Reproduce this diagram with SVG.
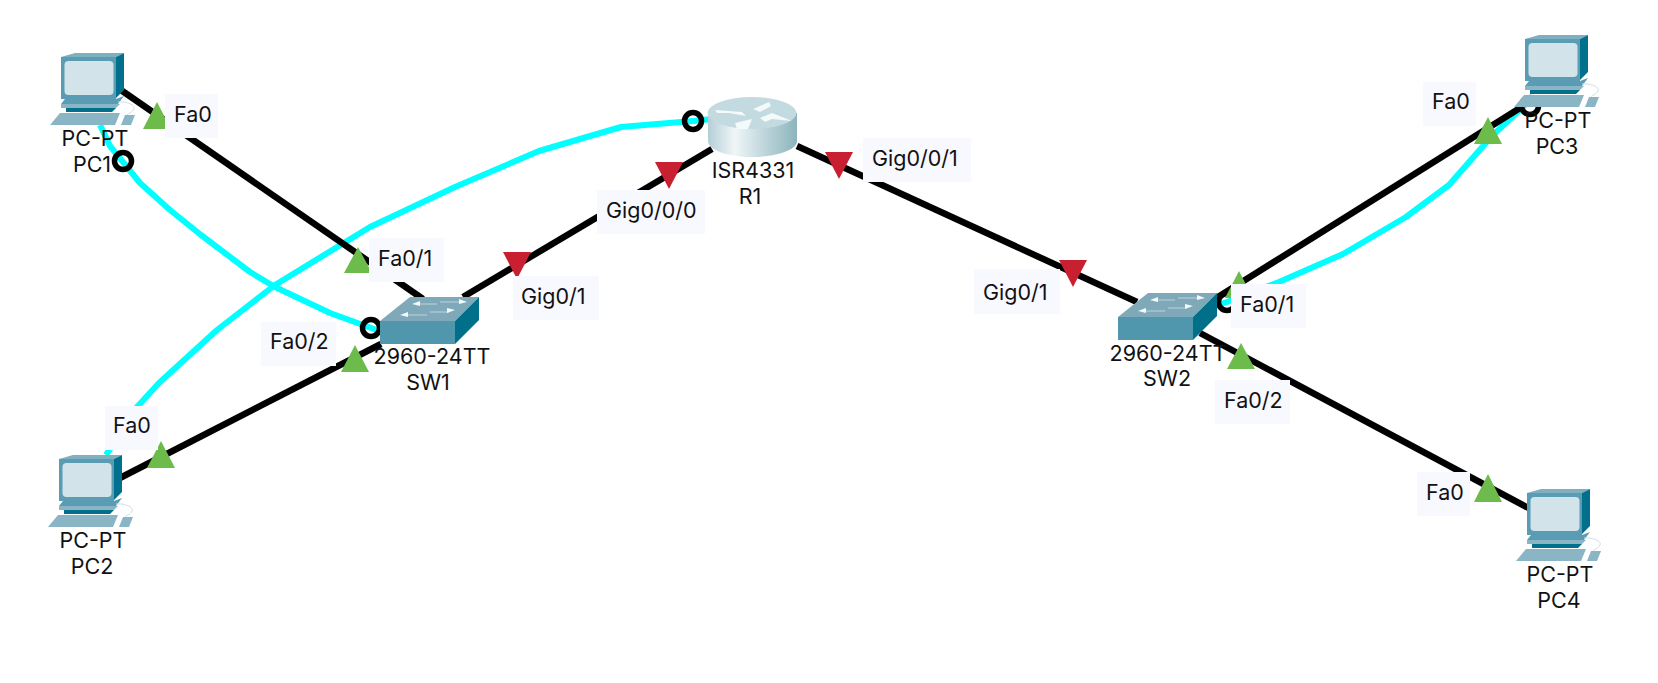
<svg xmlns="http://www.w3.org/2000/svg" xmlns:xlink="http://www.w3.org/1999/xlink" width="1658" height="683" viewBox="0 0 1658 683">
<style>
text{font-family:Inter,"Liberation Sans",sans-serif;fill:#111;}
.nl{font-size:21.500px;text-anchor:middle;}
.pl{font-size:21.500px;}
.lb{fill:#f8f8ff;}
.cu{fill:none;stroke:#000;stroke-width:6.500;}
.cy{fill:none;stroke:#00ffff;stroke-width:6;stroke-linejoin:round;}
.ci{fill:none;stroke:#000;stroke-width:5.500;}
.up{fill:#6cbb4b;}
.dn{fill:#c92031;}
</style>
<defs>
<linearGradient id="rg" x1="0" x2="1" y1="0" y2="0">
<stop offset="0" stop-color="#b4ced5"/><stop offset="0.3" stop-color="#f0f6f7"/><stop offset="0.6" stop-color="#c3d9de"/><stop offset="1" stop-color="#8cb4bc"/>
</linearGradient>
<g id="pc">
<path d="M11 4L25 0H74L66 4Z" fill="#7fb0c0"/>
<path d="M11 4H66V46H11Z" fill="#5a9cb3"/>
<path d="M66 4L74 0V37L66 45Z" fill="#00708c"/>
<rect x="14.500" y="8" width="49" height="34" rx="4" fill="#d3e3ea"/>
<path d="M15 46H66L74 43L68 51H11Z" fill="#5a9cb3"/>
<path d="M11 51H70L66 55H11Z" fill="#89b5c4"/>
<path d="M16 55H66L62 59H16Z" fill="#00708c"/>
<path d="M0 72L10 60H70L65 72Z" fill="#89b5c4"/>
<path d="M71 72L75 62H85L81 72Z" fill="#89b5c4"/>
<path d="M68 49C76 48 86 52 84 56C82 60 78 60 77 62" fill="none" stroke="#cfdfe6" stroke-width="1"/>
</g>
<g id="sw">
<path d="M0 24L30 0H99L75 24Z" fill="#7fa9b8"/>
<path d="M0 24H75V47H0Z" fill="#5097ae"/>
<path d="M75 24L99 0V23L75 47Z" fill="#00708a"/>
<path d="M38 7H57M60 5H80M26 18H47M50 15H69" stroke="#bcd3db" stroke-width="1.200" fill="none"/>
<path d="M32 7L40 4V9ZM87 5L79 2V7ZM20 18L28 15V20ZM75 13L67 11V16Z" fill="#f4f9fa"/>
</g>
</defs>
<rect width="1658" height="683" fill="#fff"/>
<g id="connectors">
<path class="cy" d="M100 125L110 146L123 162L140 183L170 210L201 235L250 272L275 287L330 313L385 333"/>
<path class="cy" d="M712 119L693 121L621 127L539 151L455 187L370 227L275 285L217 330L159 383L137 407L106 455"/>
<path class="cy" d="M1215 306L1227 302L1279 282L1343 254L1406 217L1449 185L1491 137L1530 100"/>
<circle class="ci" cx="371" cy="328" r="8.500"/>
<circle class="ci" cx="693" cy="121" r="8.500"/>
<circle class="ci" cx="1227" cy="302" r="8.500"/>
<circle class="ci" cx="1530" cy="106" r="8.500"/>
<path class="cu" d="M118 88L423 299"/>
<path class="cu" d="M118 479L381 344"/>
<path class="cu" d="M463 297L712 149"/>
<path class="cu" d="M797 146L1137 302"/>
<path class="cu" d="M1218 297L1520 108"/>
<path class="cu" d="M1200 333L1534 511"/>
</g>
<g id="PC1"><use xlink:href="#pc" href="#pc" x="50" y="53"/><text class="nl" x="95" y="146">PC-PT</text><text class="nl" x="92" y="172">PC1</text></g>
<g id="PC2"><use xlink:href="#pc" href="#pc" x="48" y="455"/><text class="nl" x="93" y="548">PC-PT</text><text class="nl" x="92" y="574">PC2</text></g>
<g id="PC3"><use xlink:href="#pc" href="#pc" x="1514" y="35"/><text class="nl" x="1558" y="128">PC-PT</text><text class="nl" x="1557" y="154">PC3</text></g>
<g id="PC4"><use xlink:href="#pc" href="#pc" x="1516" y="489"/><text class="nl" x="1560" y="582">PC-PT</text><text class="nl" x="1559" y="608">PC4</text></g>
<g id="SW1"><use xlink:href="#sw" href="#sw" x="380" y="297"/><text class="nl" x="432" y="364">2960-24TT</text><text class="nl" x="428" y="390">SW1</text></g>
<g id="SW2"><use xlink:href="#sw" href="#sw" x="1118" y="293"/><text class="nl" x="1168" y="361">2960-24TT</text><text class="nl" x="1167" y="386">SW2</text></g>
<g id="R1">
<path d="M708 113V141C708 150 728 157 752 157C776 157 797 150 797 141V113Z" fill="url(#rg)"/>
<ellipse cx="752" cy="113" rx="44.500" ry="16" fill="#c4dae1"/>
<path d="M715 110L742 112L746 116L729 113L717 113ZM753 109L769 102L771 106L760 112ZM760 118L772 113L792 121L772 119L765 122ZM735 123L752 119L748 129L737 129Z" fill="#f4f9fa"/>
<text class="nl" x="753" y="178">ISR4331</text><text class="nl" x="750" y="204">R1</text>
</g>
<g id="ports">
<circle class="ci" cx="123" cy="161" r="8.500"/>
<path class="up" d="M157 102L171 129H143Z"/>
<path class="up" d="M358 247L372 273H344Z"/>
<path class="up" d="M355 345L369 372H341Z"/>
<path class="up" d="M161 441L175 468H147Z"/>
<path class="up" d="M1239 271L1253 298H1225Z"/>
<path class="up" d="M1241 343L1255 369H1227Z"/>
<path class="up" d="M1488 117L1502 144H1474Z"/>
<path class="up" d="M1488 474L1502 502H1474Z"/>
<path class="dn" d="M655 162H683L669 189Z"/>
<path class="dn" d="M825 152H853L839 179Z"/>
<path class="dn" d="M503 252H531L517 279Z"/>
<path class="dn" d="M1059 260H1087L1073 287Z"/>
<rect class="lb" x="165" y="94" width="53" height="44"/><text class="pl" x="174" y="122">Fa0</text>
<rect class="lb" x="369" y="238" width="75" height="44"/><text class="pl" x="378" y="266">Fa0/1</text>
<rect class="lb" x="261" y="322" width="75" height="44"/><text class="pl" x="270" y="349">Fa0/2</text>
<rect class="lb" x="105" y="406" width="53" height="44"/><text class="pl" x="113" y="433">Fa0</text>
<rect class="lb" x="513" y="276" width="86" height="44"/><text class="pl" x="521" y="304">Gig0/1</text>
<rect class="lb" x="597" y="190" width="108" height="44"/><text class="pl" x="606" y="218">Gig0/0/0</text>
<rect class="lb" x="863" y="138" width="108" height="44"/><text class="pl" x="872" y="166">Gig0/0/1</text>
<rect class="lb" x="974" y="269" width="86" height="45"/><text class="pl" x="983" y="300">Gig0/1</text>
<rect class="lb" x="1231" y="284" width="75" height="44"/><text class="pl" x="1240" y="312">Fa0/1</text>
<rect class="lb" x="1215" y="380" width="75" height="44"/><text class="pl" x="1224" y="408">Fa0/2</text>
<rect class="lb" x="1423" y="82" width="53" height="44"/><text class="pl" x="1432" y="109">Fa0</text>
<rect class="lb" x="1417" y="472" width="53" height="44"/><text class="pl" x="1426" y="500">Fa0</text>
</g>
</svg>
